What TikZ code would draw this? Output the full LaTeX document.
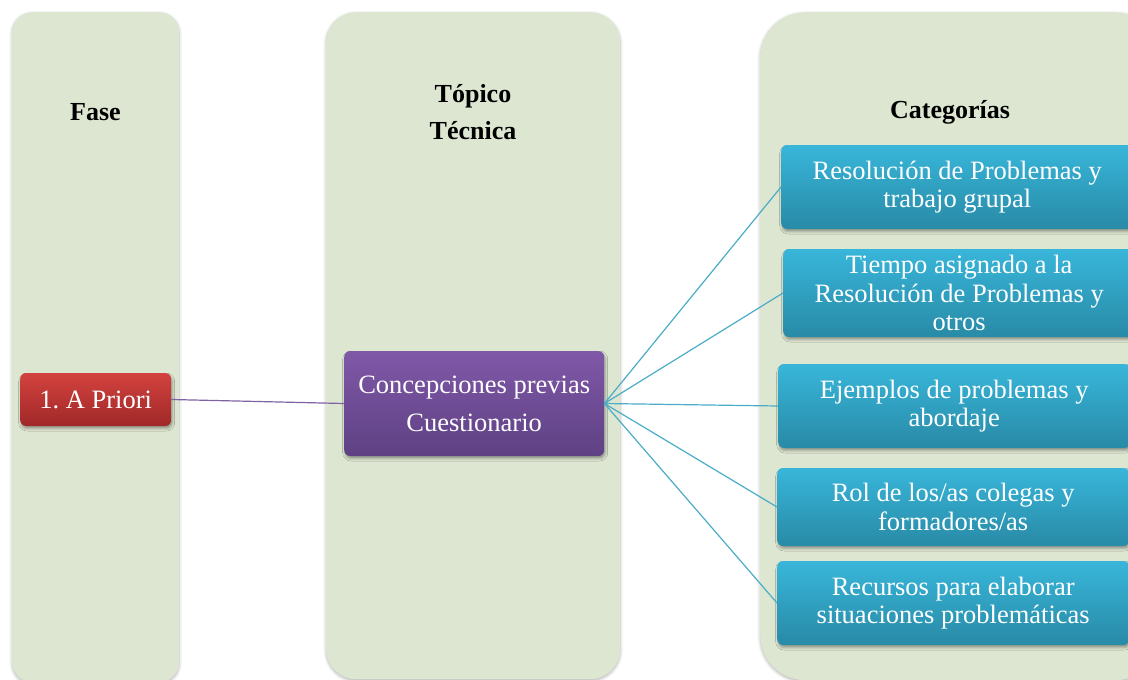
\documentclass[tikz,border=0pt]{standalone}
\usepackage{fontspec}
\setmainfont{Liberation Serif}
\usetikzlibrary{shadows.blur}
\frenchspacing

\definecolor{colfill}{RGB}{221,230,209}
\definecolor{redtop}{RGB}{210,66,62}
\definecolor{redbot}{RGB}{160,40,40}
\definecolor{purtop}{RGB}{128,88,168}
\definecolor{purbot}{RGB}{94,65,131}
\definecolor{bluetop}{RGB}{56,182,218}
\definecolor{bluebot}{RGB}{40,138,166}
\definecolor{cyanline}{RGB}{74,172,198}
\definecolor{purline}{RGB}{126,98,163}

\tikzset{
  column/.style={fill=colfill, draw=none, anchor=north west, inner sep=0pt,
    blur shadow={shadow xshift=0pt, shadow yshift=-1.5pt, shadow blur radius=3pt, shadow opacity=30}},
  header/.style={font=\bfseries\fontsize{26}{37}\selectfont, align=center, text=black},
  box/.style={rounded corners=6pt, anchor=west, inner sep=0pt, align=center, text=white,
    font=\fontsize{26.5}{28.5}\selectfont,
    blur shadow={shadow xshift=1pt, shadow yshift=-2.5pt, shadow blur radius=2.5pt, shadow opacity=35}},
  redbox/.style={box, top color=redtop, bottom color=redbot},
  purbox/.style={box, top color=purtop, bottom color=purbot, font=\fontsize{26.5}{38}\selectfont},
  bluebox/.style={box, top color=bluetop, bottom color=bluebot, minimum width=352pt},
  link/.style={line width=1.2pt}
}

\begin{document}
\begin{tikzpicture}[x=1pt, y=-1pt]
\useasboundingbox (0,0) rectangle (1128,680);
\clip (0,0) rectangle (1128,680);

% three background columns
\node[column, rounded corners=20pt, minimum width=167pt, minimum height=670pt] (colA) at (12,12) {};
\node[column, rounded corners=30pt, minimum width=294pt, minimum height=667pt] (colB) at (326,12) {};
\node[column, rounded corners=45pt, minimum width=400pt, minimum height=668pt] (colC) at (760,12) {};

% column headings
\node[header] (hA) at (95.5,112) {Fase};
\node[header] (hB) at (473,112) {Tópico\\Técnica};
\node[header] (hC) at (950,112) {Categorías};

% phase and topic boxes
\node[redbox, minimum width=151pt, minimum height=53pt] (prio) at (20,399.5) {1. A Priori};
\node[purbox, minimum width=260pt, minimum height=105pt] (conc) at (344,403.5) {Concepciones previas\\Cuestionario};

% category boxes
\node[bluebox, minimum height=84pt] (c1) at (781,187) {Resolución de Problemas y\\trabajo grupal};
\node[bluebox, minimum height=88pt] (c2) at (783,293) {Tiempo asignado a la\\Resolución de Problemas y\\otros};
\node[bluebox, minimum height=84pt] (c3) at (778,406) {Ejemplos de problemas y\\abordaje};
\node[bluebox, minimum height=78pt] (c4) at (777,507) {Rol de los/as colegas y\\formadores/as};
\node[bluebox, minimum height=84pt] (c5) at (777,603) {Recursos para elaborar\\situaciones problemáticas};

% connectors
\draw[link, purline] (prio.east) -- (conc.west);
\foreach \c in {c1,c2,c3,c4,c5}
  \draw[link, cyanline] (conc.east) -- (\c.west);
\end{tikzpicture}
\end{document}
